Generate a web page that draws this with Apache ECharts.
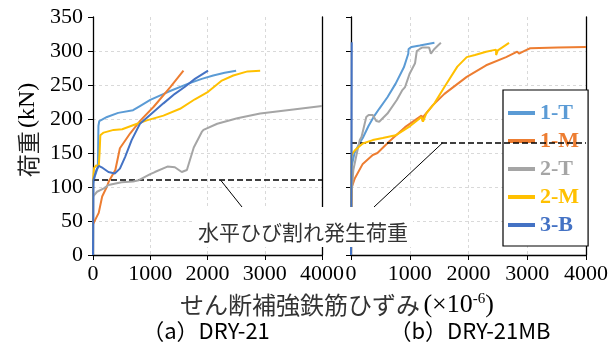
<!DOCTYPE html>
<html><head><meta charset="utf-8">
<script src="https://cdn.jsdelivr.net/npm/echarts@6/dist/echarts.min.js"></script>
<style>html,body{margin:0;padding:0;background:#fff}#c{width:611px;height:342px}</style>
</head><body><div id="c"></div>
<script>
// ---- data ----
const seriesNames = ['1-T','1-M','2-T','2-M','3-B'];
const seriesColors = ['#5B9BD5','#ED7D31','#A5A5A5','#FFC000','#4472C4'];
const strainTicks = [0,1000,2000,3000,4000];
const loadTicks = [0,50,100,150,200,250,300,350];
const crackLoadA = 110;
const crackLoadB = 165;
const panelTitles = ['（a）DRY-21','（b）DRY-21MB'];

// (a) DRY-21  [strain, load]
const a_1T = [[0,0],[3,105],[30,115],[70,125],[85,130],[95,190],[110,197],[245,203],[440,209],[700,213],[820,219],[1000,228],[1315,240],[1665,252],[1900,259],[2100,264],[2300,268],[2500,271]];
const a_1M = [[0,0],[0,45],[40,52],[100,62],[160,86],[240,100],[275,108],[390,125],[470,157],[650,179],[830,198],[1060,218],[1350,247],[1580,271]];
const a_2T = [[0,0],[0,86],[70,93],[190,98],[270,103],[500,107],[700,108],[800,110],[1000,119],[1080,122],[1300,130],[1430,129],[1550,122],[1640,125],[1760,158],[1900,181],[1930,184],[2170,193],[2520,201],[2920,208],[3500,214],[4000,219]];
const a_2M = [[0,0],[0,110],[20,128],[60,132],[100,130],[115,150],[128,176],[186,180],[360,184],[510,185],[770,193],[940,198],[1230,205],[1520,215],[1780,229],[2010,240],[2240,256],[2450,264],[2700,270],[2920,271]];
const a_3B = [[0,0],[5,110],[60,125],[100,131],[170,128],[270,122],[380,120],[470,127],[560,144],[675,169],[820,193],[1025,208],[1230,223],[1430,237],[1600,247],[1780,259],[2010,271]];

// (b) DRY-21MB
const b_1T = [[0,0],[10,130],[60,150],[150,165],[200,172],[300,190],[400,205],[480,215],[620,232],[760,252],[900,276],[975,296],[980,303],[1030,306],[1170,308],[1420,312]];
const b_1M = [[0,0],[5,60],[15,100],[66,113],[200,134],[370,147],[450,150],[650,167],[920,188],[1200,205],[1225,196],[1235,204],[1390,220],[1590,237],[1970,262],[2300,279],[2640,291],[2830,299],[2860,296],[2970,301],[3050,304],[3520,305],[4000,306]];
const b_2T = [[0,0],[10,90],[40,125],[100,150],[150,169],[180,174],[260,203],[300,206],[370,206],[430,197],[480,196],[620,208],[780,228],[870,242],[920,247],[1000,267],[1090,282],[1120,300],[1170,303],[1210,305],[1330,305],[1360,296],[1420,303],[1480,308],[1530,312]];
const b_2M = [[0,0],[5,145],[30,150],[66,154],[200,164],[370,169],[540,172],[760,176],[980,188],[1200,203],[1225,196],[1280,208],[1420,223],[1590,247],[1810,277],[1970,291],[2110,294],[2300,299],[2470,302],[2470,294],[2500,301],[2690,312]];
const b_3B = [[0,0],[8,150],[12,313]];

const annotText = '水平ひび割れ発生荷重';
const annotAnchorA = [2230, crackLoadA];
const annotAnchorB = [1560, crackLoadB];

// ---- chart ----
const chart = echarts.init(document.getElementById('c'));
const serif = 'Liberation Serif';
const cjk = 'Noto Sans CJK JP';
const grids = [
  {left:93, top:17, width:229, height:238},
  {left:351, top:17, width:241, height:238}
];
const splitStyle = {show:true, showMaxLine:false, lineStyle:{color:'#d9d9d9', type:[3,3], width:1}};
const plain = v => String(v);
function xAx(gi){
  return {type:'value', gridIndex:gi, min:strainTicks[0], max:strainTicks[strainTicks.length-1], interval:1000,
    axisLine:{show:true, onZero:false, lineStyle:{color:'#000', width:1.3}},
    axisTick:{show:true, inside:false, length:5, lineStyle:{color:'#000'}},
    axisLabel:{show:true, margin:8, fontFamily:serif, fontSize:22, color:'#000', formatter:plain, hideOverlap:false},
    splitLine:splitStyle};
}
function yAx(gi, labels){
  return {type:'value', gridIndex:gi, min:loadTicks[0], max:loadTicks[loadTicks.length-1], interval:50,
    axisLine:{show:true, onZero:false, lineStyle:{color:'#000', width:1.3}},
    axisTick:{show:true, inside:false, length:5, lineStyle:{color:'#000'}},
    axisLabel:{show:labels, margin:10, fontFamily:serif, fontSize:22, color:'#000', formatter:plain},
    splitLine:splitStyle};
}
function yBorder(gi){
  return {type:'value', gridIndex:gi, position:'right', min:0, max:350,
    axisLine:{show:true, onZero:false, lineStyle:{color:'#000', width:1.3}},
    axisTick:{show:false}, axisLabel:{show:false}, splitLine:{show:false}};
}
const panelA = [a_1T,a_1M,a_2T,a_2M,a_3B];
const panelB = [b_1T,b_1M,b_2T,b_2M,b_3B];
const series = [];
[panelA, panelB].forEach((panel, pi) => {
  panel.forEach((d, i) => {
    const s = {type:'line', name:seriesNames[i], xAxisIndex:pi, yAxisIndex:pi*2, data:d,
      showSymbol:false, symbol:'none', lineStyle:{width:2, color:seriesColors[i]}, itemStyle:{color:seriesColors[i]},
      z: 3 + i, animation:false};
    if (i === 0) {
      s.markLine = {silent:true, symbol:'none', animation:false, label:{show:false},
        lineStyle:{color:'#000', type:[6,3], width:1.5},
        data:[{yAxis: pi === 0 ? crackLoadA : crackLoadB}]};
    }
    series.push(s);
  });
});

chart.setOption({
  animation:false,
  grid: grids,
  xAxis:[xAx(0), xAx(1)],
  yAxis:[yAx(0,true), yBorder(0), yAx(1,false), yBorder(1)],
  legend:{
    left:503, top:90, orient:'vertical', selectedMode:false,
    backgroundColor:'#fff', borderColor:'#000', borderWidth:1.2,
    padding:[12,9,10,5], itemGap:6, itemWidth:27, itemHeight:4, icon:'rect',
    textStyle:{fontFamily:serif, fontWeight:'bold', fontSize:22, lineHeight:22},
    data: seriesNames.map((n,i)=>({name:n, textStyle:{color:seriesColors[i]}}))
  },
  series: series
});

const pA = chart.convertToPixel({gridIndex:0}, annotAnchorA);
const pB = chart.convertToPixel({gridIndex:1}, annotAnchorB);
chart.setOption({
  graphic:[
    {type:'rect', z:100, shape:{x:193, y:207, width:220, height:40}, style:{fill:'#fff'}},
    {type:'line', z:101, shape:{x1:pA[0], y1:pA[1], x2:242, y2:207}, style:{stroke:'#000', lineWidth:1}},
    {type:'line', z:101, shape:{x1:pB[0], y1:pB[1], x2:374, y2:207}, style:{stroke:'#000', lineWidth:1}},
    {type:'text', z:102, x:303, y:232, style:{text:annotText, fontFamily:cjk, fontSize:21, fill:'#333', align:'center', verticalAlign:'middle'}},
    {type:'text', z:102, x:28, y:130, rotation:Math.PI/2,
      style:{text:'{c|荷重} {l|(kN)}', align:'center', verticalAlign:'middle',
        rich:{c:{fontFamily:cjk, fontSize:23, fill:'#222'}, l:{fontFamily:serif, fontSize:24, fill:'#000'}}}},
    {type:'text', z:102, x:337, y:305,
      style:{text:'{c|せん断補強鉄筋ひずみ} {l|(×10}{s|-6}{l|)}', align:'center', verticalAlign:'middle',
        rich:{c:{fontFamily:cjk, fontSize:24, fill:'#333'}, l:{fontFamily:serif, fontSize:26, fill:'#000'}, s:{fontFamily:serif, fontSize:15, fill:'#000', verticalAlign:'top', padding:[0,0,10,0]}}}},
    {type:'text', z:102, x:206, y:331, style:{text:panelTitles[0], fontFamily:cjk, fontSize:22, fill:'#000', align:'center', verticalAlign:'middle'}},
    {type:'text', z:102, x:470, y:331, style:{text:panelTitles[1], fontFamily:cjk, fontSize:22, fill:'#000', align:'center', verticalAlign:'middle'}}
  ]
});
</script></body></html>
